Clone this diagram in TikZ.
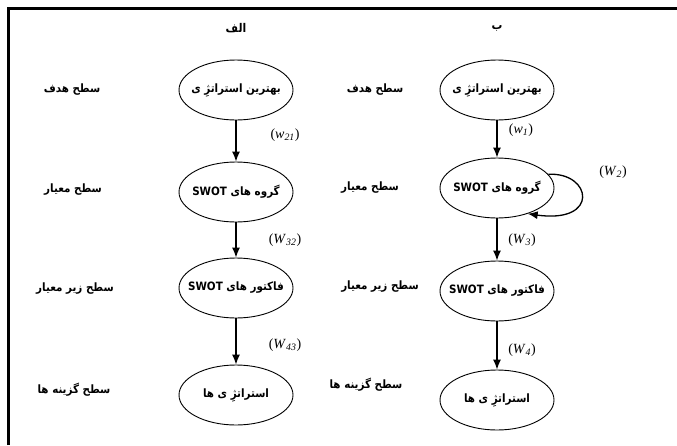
\documentclass[tikz,border=0pt]{standalone}
\usepackage{fontspec}
\setmainfont{Liberation Serif}
\newfontfamily\fa[Script=Arabic]{DejaVu Sans Condensed}
\TeXXeTstate=1
\usetikzlibrary{shapes.geometric,arrows.meta}

\begin{document}
\begin{tikzpicture}[x=1pt,y=-1pt,
  state/.style={ellipse, draw, line width=0.9pt, minimum width=114pt,
    minimum height=60pt, inner xsep=-10pt, inner ysep=0pt,
    font=\fa\bfseries\fontsize{11.5}{13}\selectfont},
  level/.style={font=\fa\bfseries\fontsize{11.5}{13}\selectfont},
  header/.style={font=\fa\bfseries\fontsize{12}{14}\selectfont},
  wlabel/.style={font=\fontsize{14}{16}\selectfont},
  flow/.style={-{Latex[length=10pt,width=8pt]}, line width=1.3pt}]

\useasboundingbox (0,0) rectangle (677,445);
\draw[line width=3pt] (8,445) -- (8,8) -- (677,8);

% column headers
\node[header] (hA) at (236,28) {\beginR الف\endR};
\node[header] (hB) at (497,28) {\beginR ب\endR};

% hierarchy (a)
\node[state] (a1) at (236,90)  {\beginR بهترین استراتژِ ی\endR};
\node[state] (a2) at (236,192) {\beginR گروه های \beginL SWOT\endL\endR};
\node[state] (a3) at (236,288) {\beginR فاکتور های \beginL SWOT\endL\endR};
\node[state] (a4) at (236,395) {\beginR استراتژِ ی ها\endR};

% hierarchy (b)
\node[state] (b1) at (497,90)  {\beginR بهترین استراتژِ ی\endR};
\node[state] (b2) at (497,188) {\beginR گروه های \beginL SWOT\endL\endR};
\node[state] (b3) at (497,291) {\beginR فاکتور های \beginL SWOT\endL\endR};
\node[state] (b4) at (497,400) {\beginR استراتژِ ی ها\endR};

% level names
\node[level] (la1) at (72,90)  {\beginR سطح هدف\endR};
\node[level] (la2) at (73,190) {\beginR سطح معیار\endR};
\node[level] (la3) at (75,289) {\beginR سطح زیر معیار\endR};
\node[level] (la4) at (74,390) {\beginR سطح گزینه ها\endR};

\node[level] (lb1) at (375,90)  {\beginR سطح هدف\endR};
\node[level] (lb2) at (370,188) {\beginR سطح معیار\endR};
\node[level] (lb3) at (380,287) {\beginR سطح زیر معیار\endR};
\node[level] (lb4) at (366,385) {\beginR سطح گزینه ها\endR};

% connectors (a)
\draw[flow] (a1) -- (a2);
\draw[flow] (a2) -- (a3);
\draw[flow] (a3) -- (a4);
\node[wlabel] (wa1) at (285,135) {(\textit{w}\textsubscript{\textit{21}})};
\node[wlabel] (wa2) at (285,240) {(\textit{W}\textsubscript{\textit{32}})};
\node[wlabel] (wa3) at (285,345) {(\textit{W}\textsubscript{\textit{43}})};

% connectors (b)
\draw[flow] (b1) -- (b2);
\draw[flow] (b2) -- (b3);
\draw[flow] (b3) -- (b4);
\draw[flow] (b2.15) .. controls (592,172) and (600,224) .. (b2.-40);
\node[wlabel] (wb1) at (521,130) {(\textit{w}\textsubscript{\textit{1}})};
\node[wlabel] (wb2) at (613,172) {(\textit{W}\textsubscript{\textit{2}})};
\node[wlabel] (wb3) at (522,240) {(\textit{W}\textsubscript{\textit{3}})};
\node[wlabel] (wb4) at (522,350) {(\textit{W}\textsubscript{\textit{4}})};
\end{tikzpicture}
\end{document}
